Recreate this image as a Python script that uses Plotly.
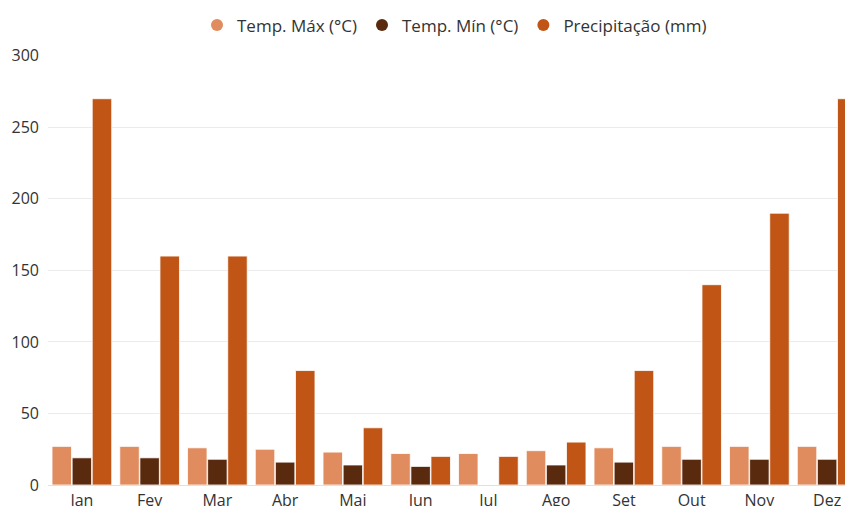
import plotly.graph_objects as go

meses = ["Jan", "Fev", "Mar", "Abr", "Mai", "Jun", "Jul", "Ago", "Set", "Out", "Nov", "Dez"]
temp_max = [27, 27, 26, 25, 23, 22, 22, 24, 26, 27, 27, 27]
temp_min = [19, 19, 18, 16, 14, 13, None, 14, 16, 18, 18, 18]
precip = [270, 160, 160, 80, 40, 20, 20, 30, 80, 140, 190, 270]

names = ["Temp. Máx (°C)", "Temp. Mín (°C)", "Precipitação (mm)"]
colors = ["#E08C5E", "#5A2A0F", "#C05516"]
series = [temp_max, temp_min, precip]

fig = go.Figure()
for n, c, s in zip(names, colors, series):
    fig.add_trace(go.Bar(x=meses, y=s, name=n, marker=dict(color=c, line=dict(color="white", width=0.8)),
                         showlegend=False))
for n, c in zip(names, colors):
    fig.add_trace(go.Scatter(x=[None], y=[None], mode="markers", name=n,
                             marker=dict(symbol="circle", size=16, color=c)))

fig.update_layout(
    width=862, height=528,
    margin=dict(l=48, r=1, t=53, b=43),
    paper_bgcolor="white", plot_bgcolor="white",
    font=dict(family="Open Sans", size=15, color="#333333"),
    barmode="group", bargap=0.11, bargroupgap=0.03,
    legend=dict(orientation="h", x=0.5, xanchor="center", yref="container", y=0.986, yanchor="top",
                font=dict(size=17, color="#333333"), itemsizing="constant"),
    xaxis=dict(showgrid=False, ticks="", showline=False, tickfont=dict(size=16), ticklabelstandoff=4),
    yaxis=dict(range=[0, 300], dtick=50, gridcolor="#EBEBEB", gridwidth=1, zeroline=True,
               zerolinecolor="#E0E0E0", zerolinewidth=1, ticks="", showline=False,
               tickfont=dict(size=16), ticklabelstandoff=8),
)

fig.write_html("out.html")
